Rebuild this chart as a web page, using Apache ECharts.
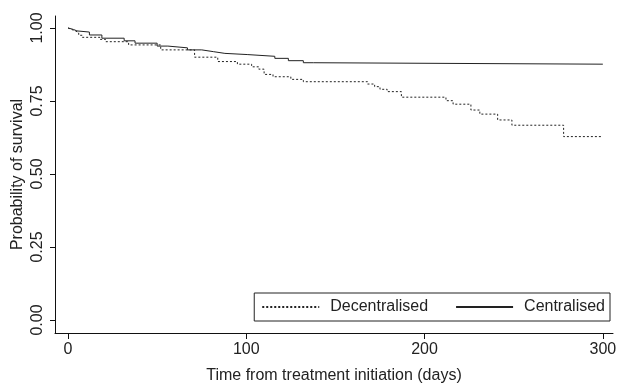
<!DOCTYPE html>
<html>
<head>
<meta charset="utf-8">
<script src="https://cdn.jsdelivr.net/npm/echarts@6/dist/echarts.min.js"></script>
<style>
html,body{margin:0;padding:0;background:#fff;}
#chart{width:618px;height:385px;}
</style>
</head>
<body>
<div id="chart"></div>
<script>
// Kaplan-Meier step data: [time (days), survival probability after the step]
const decentralisedTimes = [0, 1, 2, 4, 6, 8, 18, 21, 34, 52, 71, 84, 95, 103, 107, 110, 115, 125, 132, 168, 172, 175, 179, 187, 212, 216, 226, 231, 241, 249, 278, 300];
const decentralisedSurv  = [1.0, 0.995, 0.99, 0.985, 0.975, 0.968, 0.961, 0.953, 0.942, 0.925, 0.900, 0.885, 0.876, 0.867, 0.859, 0.841, 0.833, 0.824, 0.816, 0.808, 0.799, 0.790, 0.782, 0.763, 0.751, 0.739, 0.719, 0.705, 0.685, 0.667, 0.628, 0.628];
const centralisedTimes = [0, 1, 3, 5, 12, 19, 31.5, 37.6, 50, 56, 67, 75, 81.5, 88, 100.5, 116, 123.6, 132, 137.6, 300];
const centralisedSurv  = [1.0, 0.995, 0.99, 0.986, 0.976, 0.965, 0.956, 0.948, 0.938, 0.932, 0.925, 0.919, 0.913, 0.909, 0.903, 0.896, 0.888, 0.881, 0.876, 0.876];
const xTicks = [0, 100, 200, 300];
const yTicks = [0, 0.25, 0.5, 0.75, 1.0];
const seriesNames = ['Decentralised', 'Centralised'];
const xTitle = 'Time from treatment initiation (days)';
const yTitle = 'Probability of survival';

const zip = (a, b) => a.map((v, i) => [v, b[i]]);
const font = 'Liberation Sans, Arial, sans-serif';
const chart = echarts.init(document.getElementById('chart'), null, {renderer: 'canvas'});
chart.setOption({
  animation: false,
  backgroundColor: '#fff',
  grid: {left: 55, right: 5, top: 16, bottom: 52, containLabel: false, outerBoundsMode: 'none'},
  legend: {
    data: seriesNames,
    right: 8, top: 293,
    orient: 'horizontal',
    itemWidth: 57, itemHeight: 16, itemGap: 27,
    padding: [6, 5, 6, 7],
    borderColor: '#222', borderWidth: 1,
    itemStyle: {opacity: 0},
    textStyle: {fontFamily: font, fontSize: 16, color: '#222', padding: [0, 0, 0, 6]}
  },
  xAxis: {
    type: 'value', min: -7.3, max: 305.7,
    name: xTitle, nameLocation: 'middle', nameGap: 35, nameMoveOverlap: false,
    nameTextStyle: {fontFamily: font, fontSize: 16, color: '#222'},
    axisLine: {show: true, onZero: false, lineStyle: {color: '#111', width: 1}},
    axisTick: {show: true, length: 6, customValues: xTicks, lineStyle: {color: '#111'}},
    axisLabel: {customValues: xTicks, margin: 9, fontFamily: font, fontSize: 16, color: '#222'},
    splitLine: {show: false}
  },
  yAxis: {
    type: 'value', min: -0.0445, max: 1.041,
    name: yTitle, nameLocation: 'middle', nameGap: 29, nameMoveOverlap: false,
    nameTextStyle: {fontFamily: font, fontSize: 16, color: '#222'},
    axisLine: {show: true, onZero: false, lineStyle: {color: '#111', width: 1}},
    axisTick: {show: true, length: 5, customValues: yTicks, lineStyle: {color: '#111'}},
    axisLabel: {customValues: yTicks, rotate: 90, margin: 9, fontFamily: font, fontSize: 16, color: '#222',
      formatter: v => v.toFixed(2)},
    splitLine: {show: false}
  },
  series: [
    {
      name: seriesNames[0], type: 'line', step: 'end', symbol: 'none',
      data: zip(decentralisedTimes, decentralisedSurv),
      lineStyle: {color: '#222', width: 1, type: [2, 2]},
      itemStyle: {color: '#222'}
    },
    {
      name: seriesNames[1], type: 'line', step: 'end', symbol: 'none',
      data: zip(centralisedTimes, centralisedSurv),
      lineStyle: {color: '#222', width: 1, type: 'solid'},
      itemStyle: {color: '#222'}
    }
  ]
});
</script>
</body>
</html>
